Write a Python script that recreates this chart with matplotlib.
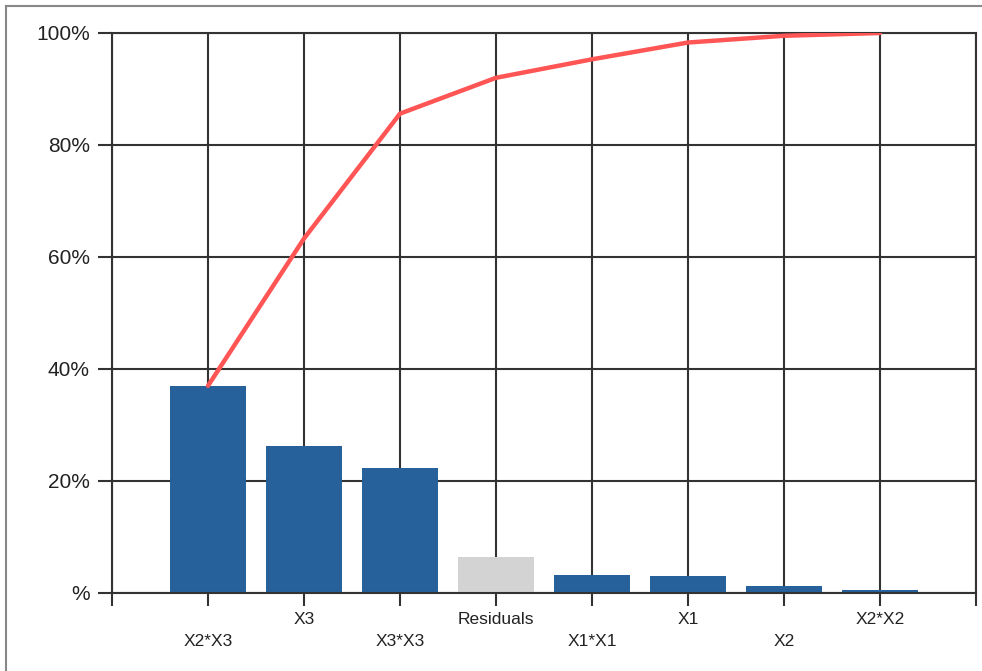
import matplotlib
matplotlib.use("Agg")
import matplotlib.pyplot as plt
import numpy as np
from matplotlib.lines import Line2D

categories = ["X2*X3", "X3", "X3*X3", "Residuals", "X1*X1", "X1", "X2", "X2*X2"]
contributions = [37.0, 26.3, 22.3, 6.4, 3.3, 3.0, 1.2, 0.5]
bar_colors = ["#26619c", "#26619c", "#26619c", "#d3d3d3", "#26619c", "#26619c", "#26619c", "#26619c"]
y_ticks = [0, 20, 40, 60, 80, 100]
y_labels = ["%", "20%", "40%", "60%", "80%", "100%"]

cumulative = np.cumsum(contributions)
cumulative = cumulative / cumulative[-1] * 100

plt.rcParams['font.family'] = ['Liberation Sans', 'DejaVu Sans']

fig = plt.figure(figsize=(9.82, 6.71), dpi=100)
ax = fig.add_axes([112/982, 78/671, (976-112)/982, (593-33)/671])

x = np.arange(1, len(categories) + 1)
ax.bar(x, contributions, width=0.8, color=bar_colors, zorder=2)
ax.plot(x, cumulative, color="#ff5555", lw=3.2, zorder=3, solid_capstyle="round")

ax.set_xlim(0, len(categories) + 1)
ax.set_ylim(0, 100)

ax.set_xticks(np.arange(0, len(categories) + 2))
labels = [""]
for i, c in enumerate(categories):
    labels.append(("\n" + c) if i % 2 == 0 else c)
labels.append("")
ax.set_xticklabels(labels, fontsize=12.5, color="#222222", linespacing=1.55)

ax.set_yticks(y_ticks)
ax.set_yticklabels(y_labels, fontsize=15, color="#222222")

ax.tick_params(axis="x", length=9, width=1.5, color="#333333", pad=5, direction="out")
ax.tick_params(axis="y", length=10, width=1.5, color="#333333", pad=6, direction="out")

ax.grid(True, color="#333333", lw=1.5, zorder=0)
ax.set_axisbelow(True)
for s in ax.spines.values():
    s.set_color("#333333")
    s.set_linewidth(1.5)

# outer frame
fig.add_artist(Line2D([6/982, 6/982], [0, 1 - 6/671], transform=fig.transFigure, color="#888888", lw=1.5))
fig.add_artist(Line2D([6/982, 1], [1 - 6/671, 1 - 6/671], transform=fig.transFigure, color="#888888", lw=1.5))

fig.savefig("out.png", dpi=100)
